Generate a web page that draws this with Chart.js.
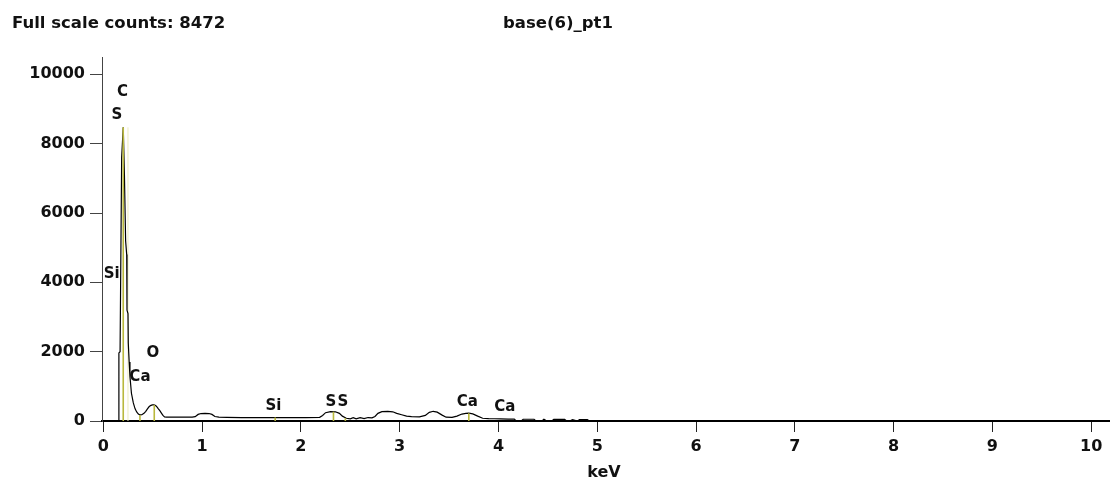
<!DOCTYPE html>
<html>
<head>
<meta charset="utf-8">
<title>base(6)_pt1</title>
<script src="https://cdn.jsdelivr.net/npm/chart.js@4.4.1/dist/chart.umd.min.js"></script>
<style>
  html, body { margin: 0; padding: 0; background: #fff; }
  #wrap { position: relative; width: 1110px; height: 486px; }
</style>
</head>
<body>
<div id="wrap"><canvas id="spectrum" width="1110" height="486"></canvas></div>
<script>
// EDS spectrum: energy (keV) and counts per channel
const spectrumKeV = [
  0, 0.156, 0.158, 0.170, 0.186, 0.202, 0.214, 0.226, 0.237, 0.240,
  0.250, 0.253, 0.262, 0.270, 0.285, 0.304, 0.322, 0.338, 0.355, 0.371,
  0.390, 0.412, 0.430, 0.447, 0.463, 0.478, 0.496, 0.513, 0.530, 0.543,
  0.558, 0.574, 0.590, 0.604, 0.620, 0.640, 0.70, 0.80, 0.90, 0.93,
  0.96, 0.99, 1.03, 1.07, 1.10, 1.13, 1.17, 1.25, 1.40, 1.55,
  1.74, 1.90, 2.05, 2.19, 2.22, 2.25, 2.30, 2.35, 2.39, 2.42,
  2.46, 2.50, 2.53, 2.56, 2.60, 2.64, 2.68, 2.72, 2.75, 2.78,
  2.82, 2.88, 2.93, 2.97, 3.02, 3.07, 3.12, 3.20, 3.26, 3.30,
  3.34, 3.38, 3.43, 3.47, 3.53, 3.58, 3.63, 3.67, 3.70, 3.74,
  3.79, 3.84, 3.90, 3.96, 4.02, 4.10, 4.16, 4.18, 4.23, 4.25,
  4.36, 4.38, 4.44, 4.46, 4.49, 4.54, 4.56, 4.67, 4.69, 4.72,
  4.75, 4.80, 4.82, 4.90, 4.92, 4.97, 5.00, 10.2
];
const spectrumCounts = [
  0, 0, 1965, 2000, 7600, 8472, 7100, 5200, 4800, 3200,
  3100, 2250, 1700, 1280, 800, 520, 350, 260, 200, 175,
  180, 220, 280, 350, 410, 445, 465, 465, 445, 410,
  350, 290, 220, 160, 120, 110, 110, 110, 110, 125,
  190, 215, 220, 215, 190, 130, 110, 105, 100, 100,
  100, 100, 100, 105, 160, 240, 270, 265, 220, 140,
  80, 60, 95, 60, 95, 70, 100, 90, 130, 220,
  270, 280, 265, 220, 180, 140, 125, 120, 160, 250,
  280, 255, 170, 110, 105, 140, 200, 220, 225, 205,
  140, 80, 70, 65, 60, 55, 55, 0, 0, 50,
  50, 0, 0, 50, 0, 0, 50, 45, 0, 0,
  40, 0, 40, 40, 0, 0, 0, 0
];

// Element line markers (keV) and the counts they reach
const klmKeV    = [0.202, 0.371, 0.516, 1.74, 2.33, 2.45, 3.70];
const klmCounts = [8472, 175, 465, 100, 268, 80, 225];
const faintKeV    = [0.250];
const faintCounts = [8472];

// Element labels: text, energy and height (counts) of the label centre
const labelText   = ['Si', 'S', 'C', 'Ca', 'O', 'Si', 'S', 'S', 'Ca', 'Ca'];
const labelKeV    = [0.085, 0.139, 0.194, 0.371, 0.503, 1.722, 2.304, 2.425, 3.685, 4.064];
const labelCounts = [4250, 8815, 9494, 1257, 1951, 434, 535, 535, 535, 390];

// Axis ticks
const xTicks = [0, 1, 2, 3, 4, 5, 6, 7, 8, 9, 10];
const yTicks = [0, 2000, 4000, 6000, 8000, 10000];

const fullScaleText = 'Full scale counts: 8472';
const spectrumName  = 'base(6)_pt1';
const xAxisName     = 'keV';

const FONT = '"DejaVu Sans", Verdana, sans-serif';

// vertical segments from the baseline up to each marker height
function markerPoints(energies, heights) {
  const pts = [];
  energies.forEach((e, i) => {
    pts.push({ x: e, y: 0 }, { x: e, y: heights[i] }, { x: e, y: null });
  });
  return pts;
}

const textPlugin = {
  id: 'spectrumText',
  afterDatasetsDraw(chart) {
    const { ctx, scales: { x, y } } = chart;
    ctx.save();
    ctx.fillStyle = '#111';
    ctx.font = 'bold 15px ' + FONT;
    ctx.textAlign = 'center';
    ctx.textBaseline = 'middle';
    labelText.forEach((t, i) => {
      ctx.fillText(t, x.getPixelForValue(labelKeV[i]), y.getPixelForValue(labelCounts[i]));
    });
    ctx.textBaseline = 'alphabetic';
    ctx.font = 'bold 16.5px ' + FONT;
    ctx.textAlign = 'left';
    ctx.fillText(fullScaleText, 12, 28);
    ctx.fillText(spectrumName, 503, 28);
    ctx.font = 'bold 16px ' + FONT;
    ctx.textAlign = 'center';
    ctx.fillText(xAxisName, 604, 477);
    ctx.restore();
  }
};

new Chart(document.getElementById('spectrum'), {
  type: 'line',
  data: {
    datasets: [
      {
        label: 'lines',
        data: markerPoints(klmKeV, klmCounts),
        borderColor: '#b9b83c',
        borderWidth: 1.6,
        pointRadius: 0,
        spanGaps: false,
        order: 0
      },
      {
        label: 'counts',
        data: spectrumKeV.map((e, i) => ({ x: e, y: spectrumCounts[i] })),
        borderColor: '#000',
        borderWidth: 1.2,
        pointRadius: 0,
        tension: 0,
        order: 1
      },
      {
        label: 'faint lines',
        data: markerPoints(faintKeV, faintCounts),
        borderColor: '#ecebbd',
        borderWidth: 1,
        pointRadius: 0,
        spanGaps: false,
        order: 2
      }
    ]
  },
  options: {
    responsive: false,
    animation: false,
    events: [],
    layout: { padding: { top: 57, left: 0, right: 0, bottom: 0 } },
    plugins: { legend: { display: false }, tooltip: { enabled: false } },
    scales: {
      x: {
        type: 'linear',
        min: -0.013,
        max: 10.19,
        afterBuildTicks: s => { s.ticks = xTicks.map(v => ({ value: v })); },
        afterFit: s => { s.height = 65; },
        border: { display: true, color: '#000', width: 2 },
        grid: { drawOnChartArea: false, drawTicks: true, tickLength: 11, color: '#222', lineWidth: 1 },
        ticks: {
          color: '#111', padding: 5, maxRotation: 0, autoSkip: false,
          callback: v => String(v),
          font: { family: FONT, weight: 'bold', size: 16 }
        }
      },
      y: {
        type: 'linear',
        min: 0,
        max: 10500,
        afterBuildTicks: s => { s.ticks = yTicks.map(v => ({ value: v })); },
        afterFit: s => { s.width = 102; },
        border: { display: true, color: '#444', width: 1 },
        grid: { drawOnChartArea: false, drawTicks: true, tickLength: 12, color: '#444', lineWidth: 1 },
        ticks: {
          color: '#111', padding: 5,
          callback: v => String(v),
          font: { family: FONT, weight: 'bold', size: 16 }
        }
      }
    }
  },
  plugins: [textPlugin]
});
</script>
</body>
</html>
